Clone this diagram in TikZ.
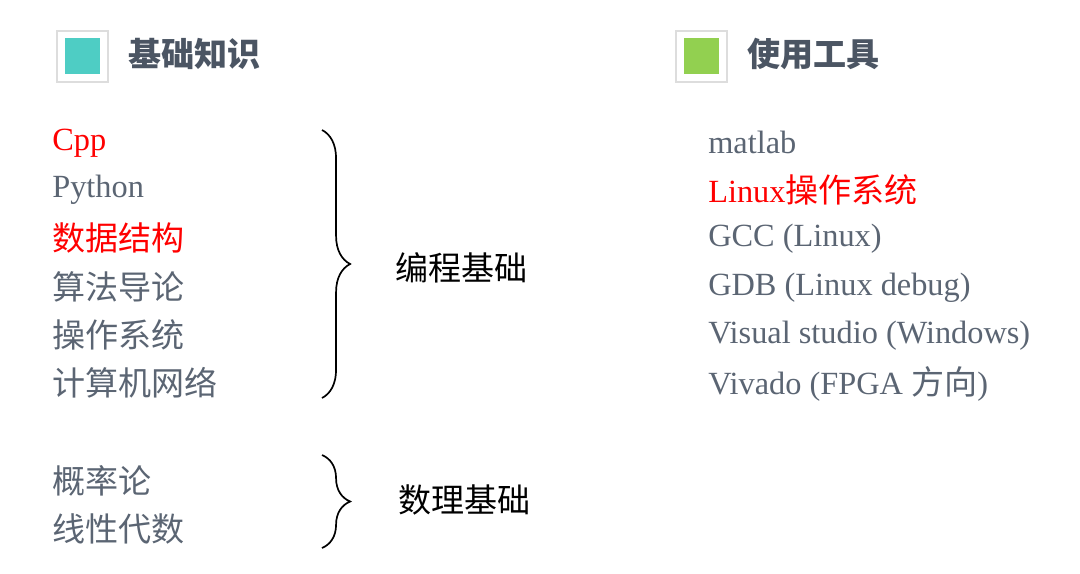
\documentclass[tikz,border=0pt]{standalone}
\usepackage{fontspec}
\setmainfont{Liberation Serif}
\newfontfamily\cjk{Noto Sans CJK SC}
\usetikzlibrary{decorations.pathreplacing}
\definecolor{txtgrey}{HTML}{5B6573}
\definecolor{headgrey}{HTML}{4B5563}
\definecolor{teal}{HTML}{4ECDC4}
\definecolor{leaf}{HTML}{92D050}
\definecolor{frame}{HTML}{DDDDDD}
\newcommand\zh[1]{{\fontsize{23.5}{23.5}\selectfont\cjk #1}}
\tikzset{
  item/.style={anchor=west,inner sep=0pt,font=\fontsize{23}{23}\selectfont,text=txtgrey},
  hot/.style={item,text=red},
  head/.style={anchor=west,inner sep=0pt,font=\fontsize{23.5}{23.5}\selectfont\cjk\bfseries,text=headgrey},
  group/.style={anchor=west,inner sep=0pt,font=\fontsize{23.5}{23.5}\selectfont\cjk,text=black},
  curly/.style={decorate,decoration={brace,amplitude=20pt,aspect=0.5},line width=1.2pt},
}
\begin{document}
\begin{tikzpicture}[x=0.025cm,y=-0.025cm]
\useasboundingbox (0,0) rectangle (1080,573);
% headings
\draw[frame,line width=0.8pt,fill=white] (57,31) rectangle (108,82);
\fill[teal] (65,38) rectangle (100,74);
\node[head] (hbase) at (128,54) {基础知识};
\draw[frame,line width=0.8pt,fill=white] (676,31) rectangle (727,82);
\fill[leaf] (684,38) rectangle (719,74);
\node[head] (htool) at (747,54) {使用工具};
% left list
\node[hot]  (cpp) at (52,143) {Cpp};
\node[item] (py)  at (52,190) {Python};
\node[hot]  (ds)  at (52,238) {\zh{数据结构}};
\node[item] (alg) at (52,287) {\zh{算法导论}};
\node[item] (os)  at (52,335) {\zh{操作系统}};
\node[item] (net) at (52,383) {\zh{计算机网络}};
\node[item] (prob) at (52,481) {\zh{概率论}};
\node[item] (lin)  at (52,529) {\zh{线性代数}};
% braces
\coordinate (b1t) at (322,130);
\coordinate (b1b) at (322,398);
\draw[curly] (b1t) -- (b1b);
\node[group] (prog) at (395,268) {编程基础};
\coordinate (b2t) at (322,455);
\coordinate (b2b) at (322,548);
\draw[curly] (b2t) -- (b2b);
\node[group] (math) at (398,500) {数理基础};
% right list
\node[item] (mat) at (708,142) {matlab};
\node[hot]  (lnx) at (708,190) {Linux\zh{操作系统}};
\node[item] (gcc) at (708,239) {GCC (Linux)};
\node[item] (gdb) at (708,288) {GDB (Linux debug)};
\node[item] (vs)  at (708,336) {Visual studio (Windows)};
\node[item] (viv) at (708,384) {Vivado (FPGA \zh{方向})};
\end{tikzpicture}
\end{document}
